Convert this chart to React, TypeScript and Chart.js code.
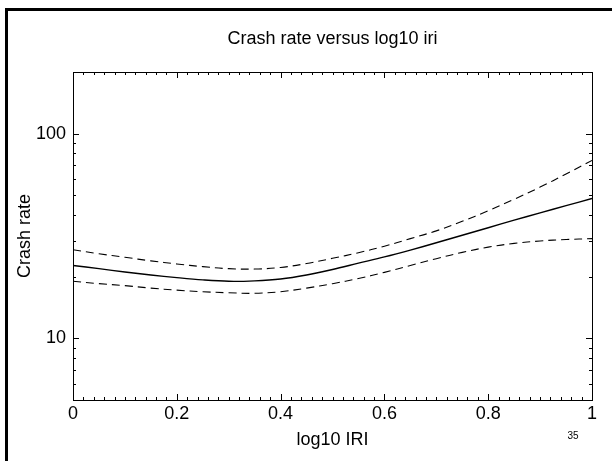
import React, { useEffect, useRef } from 'react';
import { Chart, registerables } from 'chart.js';

Chart.register(...registerables);

// ---- data ----
const iriLog = [0, 0.05, 0.1, 0.15, 0.2, 0.25, 0.3, 0.35, 0.4, 0.45, 0.5, 0.55, 0.6, 0.65, 0.7, 0.75, 0.8, 0.85, 0.9, 0.95, 1.0];
const crashRate = [22.7, 21.9, 21.1, 20.4, 19.8, 19.3, 19.0, 19.1, 19.5, 20.4, 21.7, 23.3, 25.0, 27.0, 29.3, 31.9, 34.7, 37.8, 41.0, 44.5, 48.2];
const upperBound = [27.1, 25.9, 24.9, 23.9, 23.1, 22.4, 21.9, 21.8, 22.2, 23.2, 24.6, 26.2, 28.2, 30.7, 33.5, 37.3, 42.0, 47.8, 54.8, 63.5, 74.0];
const lowerBound = [19.0, 18.5, 18.1, 17.6, 17.2, 16.9, 16.7, 16.6, 16.9, 17.6, 18.5, 19.6, 21.0, 22.7, 24.5, 26.3, 27.9, 29.1, 29.9, 30.4, 30.7];

const yLabelValues = [10, 100];
const chartTitle = 'Crash rate versus log10 iri';
const xAxisTitle = 'log10 IRI';
const yAxisTitle = 'Crash rate';
const pageNumber = '35';

const FONT = 'Liberation Sans, Arial, sans-serif';
const FS = 18;

const framePlugin = {
  id: 'framePlugin',
  beforeDraw(chart: any) {
    const ctx = chart.ctx;
    ctx.save();
    ctx.fillStyle = '#fff';
    ctx.fillRect(0, 0, chart.width, chart.height);
    ctx.fillStyle = '#000';
    // outer slide frame (top and left edges)
    ctx.fillRect(5, 8, chart.width - 5, 3);
    ctx.fillRect(5, 8, 3, chart.height - 8);
    ctx.restore();
  },
  afterDraw(chart: any) {
    const ctx = chart.ctx;
    const { left, right, top, bottom } = chart.chartArea;
    const xs = chart.scales.x;
    const ys = chart.scales.y;
    ctx.save();
    ctx.strokeStyle = '#000';
    ctx.lineWidth = 1;
    ctx.strokeRect(Math.round(left) + 0.5, Math.round(top) + 0.5, Math.round(right - left), Math.round(bottom - top));
    ctx.beginPath();
    // x ticks (inward, top and bottom)
    for (let i = 0; i <= 50; i++) {
      const v = i * 0.02;
      const px = Math.round(xs.getPixelForValue(v)) + 0.5;
      const len = i % 10 === 0 ? 6 : 3;
      ctx.moveTo(px, bottom);
      ctx.lineTo(px, bottom - len);
      ctx.moveTo(px, top);
      ctx.lineTo(px, top + len);
    }
    // y ticks (log, inward, left and right)
    for (const dec of [1, 10, 100]) {
      for (let m = 1; m <= 9; m++) {
        const v = m * dec;
        if (v < ys.min || v > ys.max) continue;
        const py = Math.round(ys.getPixelForValue(v)) + 0.5;
        const len = m === 1 ? 6 : 3;
        ctx.moveTo(left, py);
        ctx.lineTo(left + len, py);
        ctx.moveTo(right, py);
        ctx.lineTo(right - len, py);
      }
    }
    ctx.stroke();
    // page number
    ctx.fillStyle = '#000';
    ctx.font = `10px ${FONT}`;
    ctx.textAlign = 'center';
    ctx.textBaseline = 'middle';
    ctx.fillText(pageNumber, 573, 436);
    ctx.restore();
  },
};

export default function App() {
  const ref = useRef<HTMLCanvasElement | null>(null);

  useEffect(() => {
    if (!ref.current) return;
    const toPoints = (arr: number[]) => iriLog.map((x, i) => ({ x, y: arr[i] }));
    const common = { borderColor: '#000', pointRadius: 0, tension: 0.35, fill: false };
    const chart = new Chart(ref.current, {
      type: 'line',
      data: {
        datasets: [
          { label: 'Crash rate', data: toPoints(crashRate), borderWidth: 1.4, ...common },
          { label: 'Upper', data: toPoints(upperBound), borderWidth: 1.1, borderDash: [8, 5], ...common },
          { label: 'Lower', data: toPoints(lowerBound), borderWidth: 1.1, borderDash: [8, 5], ...common },
        ],
      },
      options: {
        responsive: false,
        animation: false,
        layout: { padding: { left: 0, right: 20, top: 0, bottom: 0 } },
        plugins: {
          legend: { display: false },
          tooltip: { enabled: false },
          title: {
            display: true,
            fullSize: false,
            text: chartTitle,
            color: '#000',
            font: { family: FONT, size: FS, weight: 'normal' },
            padding: { top: 28, bottom: 22.4 },
          },
        },
        scales: {
          x: {
            type: 'linear',
            min: 0,
            max: 1,
            grid: { display: false, drawTicks: false },
            border: { display: false },
            ticks: {
              stepSize: 0.2,
              color: '#000',
              padding: 3,
              maxRotation: 0,
              font: { family: FONT, size: FS },
              callback: (v: any) => String(+Number(v).toFixed(1)),
            },
            title: {
              display: true,
              text: xAxisTitle,
              color: '#000',
              font: { family: FONT, size: FS },
              padding: { top: 0, bottom: 10 },
            },
            afterFit: (s: any) => {
              s.height = 61;
            },
          },
          y: {
            type: 'logarithmic',
            min: 5,
            max: 200,
            grid: { display: false, drawTicks: false },
            border: { display: false },
            ticks: {
              color: '#000',
              padding: 7,
              autoSkip: false,
              font: { family: FONT, size: FS },
              callback: (v: any) => (yLabelValues.includes(Number(v)) ? String(v) : null),
            },
            title: {
              display: true,
              text: yAxisTitle,
              color: '#000',
              font: { family: FONT, size: FS },
              padding: { top: 14, bottom: 0 },
            },
            afterFit: (s: any) => {
              s.width = 73;
            },
          },
        },
      },
      plugins: [framePlugin],
    });
    return () => chart.destroy();
  }, []);

  return (
    <div style={{ position: 'absolute', left: 0, top: 0, width: 612, height: 461 }}>
      <canvas ref={ref} width={612} height={461} style={{ display: 'block' }} />
    </div>
  );
}
